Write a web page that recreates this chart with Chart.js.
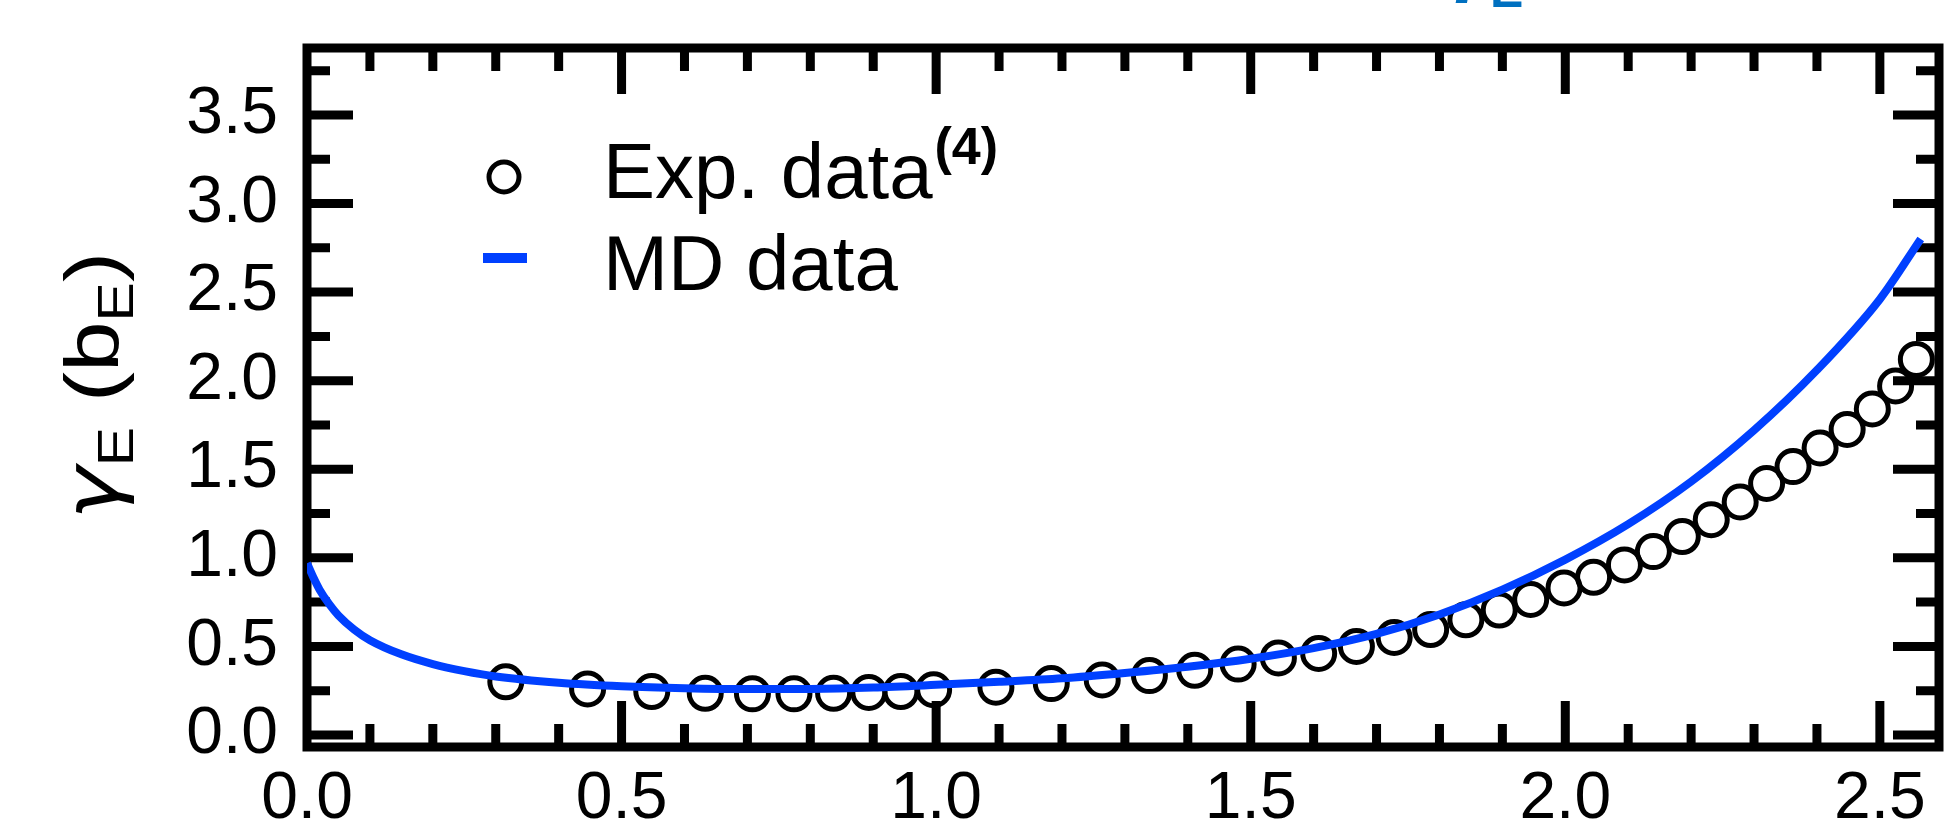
<!DOCTYPE html>
<html>
<head>
<meta charset="utf-8">
<script src="https://cdn.jsdelivr.net/npm/chart.js@4.4.1/dist/chart.umd.min.js"></script>
<style>
  html, body { margin: 0; padding: 0; background: #fff; }
  #wrap { width: 1960px; height: 836px; }
</style>
</head>
<body>
<div id="wrap"><canvas id="chart" width="1960" height="836"></canvas></div>
<script>
// experimental points (open circles)
const expX = [0.316, 0.446, 0.548, 0.633, 0.708, 0.774, 0.837, 0.893, 0.944, 0.996,
  1.095, 1.183, 1.264, 1.339, 1.411, 1.480, 1.544, 1.608, 1.668, 1.728,
  1.786, 1.842, 1.895, 1.945, 1.998, 2.045, 2.094, 2.140, 2.186, 2.232,
  2.278, 2.320, 2.362, 2.405, 2.448, 2.488, 2.525, 2.558];
const expY = [0.30, 0.26, 0.245, 0.235, 0.232, 0.232, 0.235, 0.24, 0.245, 0.255,
  0.27, 0.29, 0.31, 0.335, 0.365, 0.40, 0.435, 0.46, 0.50, 0.55,
  0.595, 0.65, 0.705, 0.765, 0.83, 0.89, 0.96, 1.035, 1.12, 1.215,
  1.315, 1.42, 1.515, 1.62, 1.725, 1.84, 1.97, 2.12];

// MD curve
const mdX = [0, 0.01, 0.02, 0.035, 0.05, 0.075, 0.1, 0.15, 0.2, 0.25, 0.3, 0.4, 0.5, 0.6, 0.7, 0.8, 0.9, 1.0,
  1.1, 1.2, 1.3, 1.4, 1.5, 1.6, 1.7, 1.8, 1.9, 2.0, 2.1, 2.2, 2.3, 2.4, 2.5, 2.565];
const mdY = [0.97, 0.89, 0.82, 0.74, 0.675, 0.595, 0.535, 0.455, 0.40, 0.36, 0.33, 0.295, 0.275, 0.264, 0.259, 0.26, 0.268, 0.283,
  0.30, 0.32, 0.35, 0.385, 0.43, 0.49, 0.57, 0.68, 0.82, 0.99, 1.19, 1.43, 1.72, 2.06, 2.46, 2.80];

const xTickValues = [0, 0.5, 1.0, 1.5, 2.0, 2.5];
const xTickLabels = ['0.0', '0.5', '1.0', '1.5', '2.0', '2.5'];
const yTickValues = [0, 0.5, 1.0, 1.5, 2.0, 2.5, 3.0, 3.5];
const yTickLabels = ['0.0', '0.5', '1.0', '1.5', '2.0', '2.5', '3.0', '3.5'];

const FONT = '"Liberation Sans", Arial, Helvetica, sans-serif';
const BLUE = '#0040ff';

// keep the plot box where the reference has it
const noPad = (s) => { s.paddingTop = 0; s.paddingBottom = 0; s.paddingLeft = 0; s.paddingRight = 0; };

// frame with inward ticks on all four sides
const framePlugin = {
  id: 'frame',
  beforeDatasetsDraw(chart) {
    const { ctx, chartArea: a, scales: { x, y } } = chart;
    ctx.save();
    ctx.strokeStyle = '#000';
    ctx.lineWidth = 9;
    ctx.lineCap = 'butt';
    ctx.beginPath();
    const nx = Math.floor(x.max / 0.1 + 1e-6);
    for (let i = 1; i <= nx; i++) {
      const px = x.getPixelForValue(i * 0.1);
      const len = i % 5 === 0 ? 46 : 23;
      ctx.moveTo(px, a.bottom); ctx.lineTo(px, a.bottom - len);
      ctx.moveTo(px, a.top); ctx.lineTo(px, a.top + len);
    }
    const ny = Math.floor(y.max / 0.25 + 1e-6);
    for (let i = 0; i <= ny; i++) {
      const py = y.getPixelForValue(i * 0.25);
      const len = i % 2 === 0 ? 46 : 23;
      ctx.moveTo(a.left, py); ctx.lineTo(a.left + len, py);
      ctx.moveTo(a.right, py); ctx.lineTo(a.right - len, py);
    }
    ctx.stroke();
    ctx.lineJoin = 'miter';
    ctx.strokeRect(a.left, a.top, a.right - a.left, a.bottom - a.top);
    ctx.restore();
  }
};

// legend, axis title and cut-off blue heading
const textPlugin = {
  id: 'texts',
  afterDraw(chart) {
    const { ctx } = chart;
    ctx.save();
    ctx.fillStyle = '#000';
    ctx.textBaseline = 'alphabetic';
    ctx.textAlign = 'left';

    // legend
    ctx.strokeStyle = '#000';
    ctx.lineWidth = 5;
    ctx.beginPath();
    ctx.arc(504, 177, 15, 0, Math.PI * 2);
    ctx.stroke();
    ctx.font = '78px ' + FONT;
    ctx.fillText(chart.data.datasets[1].label, 603, 198);
    const w = ctx.measureText(chart.data.datasets[1].label).width;
    ctx.font = 'bold 52px ' + FONT;
    ctx.fillText('(4)', 603 + w + 2, 164);
    ctx.font = '78px ' + FONT;
    ctx.fillText(chart.data.datasets[0].label, 603, 290);
    ctx.fillStyle = BLUE;
    ctx.fillRect(483, 253, 44, 10);

    // y axis title: γE (bE)
    ctx.fillStyle = '#000';
    const big = '76px ' + FONT, small = '50px ' + FONT;
    const parts = [['\u03B3', 'italic 76px "DejaVu Sans", ' + FONT, 0], ['E', small, 15], [' (b', big, 0], ['E', small, 15], [')', big, 0]];
    let total = 0;
    parts.forEach(p => { ctx.font = p[1]; total += ctx.measureText(p[0]).width; });
    const titleLen = 268;
    ctx.translate(118, 386);
    ctx.rotate(-Math.PI / 2);
    ctx.scale(titleLen / total, 1);
    let cx = -total / 2;
    parts.forEach(p => {
      ctx.font = p[1];
      ctx.fillText(p[0], cx, p[2]);
      cx += ctx.measureText(p[0]).width;
    });
    ctx.restore();

    // heading above the plot, only its lowest strokes are inside the picture
    ctx.save();
    ctx.fillStyle = '#0070c0';
    ctx.textBaseline = 'alphabetic';
    ctx.font = 'bold 80px ' + FONT;
    ctx.fillText('\u03B3', 1443, -14);
    ctx.font = 'bold 50px ' + FONT;
    ctx.fillText('E', 1490, 7);
    ctx.restore();
  }
};

const ctx = document.getElementById('chart').getContext('2d');

new Chart(ctx, {
  type: 'scatter',
  data: {
    datasets: [
      {
        label: 'MD data',
        type: 'line',
        data: mdX.map((x, i) => ({ x, y: mdY[i] })),
        borderColor: BLUE,
        borderWidth: 8,
        pointRadius: 0,
        fill: false,
        cubicInterpolationMode: 'monotone',
        order: 0,
      },
      {
        label: 'Exp. data',
        data: expX.map((x, i) => ({ x, y: expY[i] })),
        pointStyle: 'circle',
        pointRadius: 16,
        borderWidth: 5,
        borderColor: '#000',
        backgroundColor: 'rgba(0,0,0,0)',
        order: 1,
      },
    ],
  },
  options: {
    responsive: false,
    animation: false,
    devicePixelRatio: 1,
    layout: { padding: { top: 48, right: 21, left: 0, bottom: 0 } },
    plugins: { legend: { display: false }, tooltip: { enabled: false } },
    scales: {
      x: {
        type: 'linear',
        min: 0,
        max: 2.594,
        afterBuildTicks: (s) => { s.ticks = xTickValues.map((v) => ({ value: v })); },
        afterFit: (s) => { s.height = 89; noPad(s); },
        grid: { display: false, drawTicks: false },
        border: { display: false },
        ticks: {
          callback: (v, i) => xTickLabels[i],
          font: { family: FONT, size: 66 },
          color: '#000',
          padding: 13,
          maxRotation: 0,
          autoSkip: false,
        },
      },
      y: {
        type: 'linear',
        min: -0.068,
        max: 3.878,
        afterBuildTicks: (s) => { s.ticks = yTickValues.map((v) => ({ value: v })); },
        afterFit: (s) => { s.width = 307; noPad(s); },
        grid: { display: false, drawTicks: false },
        border: { display: false },
        ticks: {
          callback: (v, i) => yTickLabels[i],
          font: { family: FONT, size: 66 },
          color: '#000',
          padding: 29,
          autoSkip: false,
        },
      },
    },
  },
  plugins: [framePlugin, textPlugin],
});
</script>
</body>
</html>
